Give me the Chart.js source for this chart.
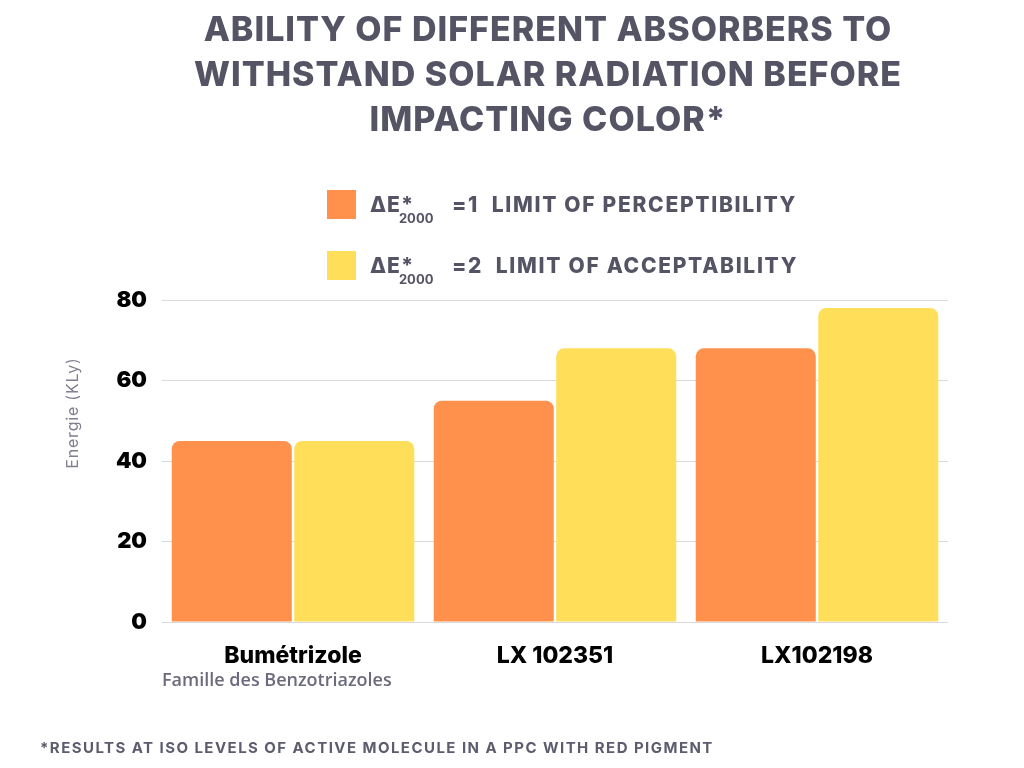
<!DOCTYPE html>
<html>
<head>
<meta charset="utf-8">
<script src="https://cdn.jsdelivr.net/npm/chart.js@4.4.0/dist/chart.umd.min.js"></script>
<style>
  html, body { margin: 0; padding: 0; background: #fff; }
  #wrap { width: 1024px; height: 768px; }
</style>
</head>
<body>
<div id="wrap"><canvas id="absorberChart" width="1024" height="768"></canvas></div>
<script>
// Chart data
const categories = ['Bumétrizole', 'LX 102351', 'LX102198'];
const perceptibility = [45, 55, 68];   // ΔE*2000 = 1
const acceptability = [45, 68, 78];    // ΔE*2000 = 2
const yTicks = [0, 20, 40, 60, 80];

const titleLines = [
    'ABILITY OF DIFFERENT ABSORBERS TO',
    'WITHSTAND SOLAR RADIATION BEFORE',
    'IMPACTING COLOR*'
];
const legendPrefix = 'ΔE*';
const legendSub = '2000';
const legendNames = ['=1  LIMIT OF PERCEPTIBILITY', '=2  LIMIT OF ACCEPTABILITY'];
const seriesColors = ['#FF914D', '#FFDE59'];
const yAxisTitle = 'Energie (KLy)';
const xAxisTitle = 'Famille des Benzotriazoles';
const footnote = '*RESULTS AT ISO LEVELS OF ACTIVE MOLECULE IN A PPC WITH RED PIGMENT';

const textGray = '#545465';

// Title, legend (with subscript), y axis title and footnote
const headerFooter = {
    id: 'headerFooter',
    afterDraw(chart) {
        const ctx = chart.ctx;
        ctx.save();

        // title
        ctx.fillStyle = textGray;
        ctx.textAlign = 'center';
        ctx.textBaseline = 'middle';
        ctx.font = '800 34px Inter';
        ctx.letterSpacing = '1px';
        titleLines.forEach((line, i) => ctx.fillText(line, 548, 31 + i * 45));

        // legend
        ctx.textAlign = 'left';
        ctx.textBaseline = 'alphabetic';
        legendNames.forEach((name, i) => {
            const y = 204 + i * 61;
            ctx.fillStyle = seriesColors[i];
            ctx.fillRect(327, y - 14, 29, 29);
            ctx.fillStyle = textGray;
            ctx.font = '800 21px Inter';
            ctx.letterSpacing = '1px';
            ctx.fillText(legendPrefix, 370, y + 8);
            const wE = ctx.measureText(legendPrefix.slice(0, 2)).width;
            ctx.font = '700 13px Inter';
            ctx.letterSpacing = '0px';
            ctx.fillText(legendSub, 370 + wE - 2, y + 19);
            ctx.font = '800 21px Inter';
            ctx.letterSpacing = '1.7px';
            ctx.fillText(name, 452, y + 8);
        });

        // y axis title
        ctx.save();
        ctx.translate(73, 413);
        ctx.rotate(-Math.PI / 2);
        ctx.textAlign = 'center';
        ctx.textBaseline = 'middle';
        ctx.font = '400 16px Inter';
        ctx.letterSpacing = '0.8px';
        ctx.fillStyle = '#80808f';
        ctx.fillText(yAxisTitle, 0, 0);
        ctx.restore();

        // footnote
        ctx.textAlign = 'left';
        ctx.textBaseline = 'middle';
        ctx.font = '700 15px Inter';
        ctx.letterSpacing = '1.45px';
        ctx.fillStyle = '#5c5c6e';
        ctx.fillText(footnote, 40, 748);

        ctx.restore();
    }
};

const ctx = document.getElementById('absorberChart').getContext('2d');

new Chart(ctx, {
    type: 'bar',
    data: {
        labels: categories,
        datasets: [{
            label: legendPrefix + legendSub + ' ' + legendNames[0],
            data: perceptibility,
            backgroundColor: seriesColors[0],
            borderRadius: { topLeft: 8, topRight: 8, bottomLeft: 0, bottomRight: 0 },
            borderSkipped: false,
            categoryPercentage: 0.935,
            barPercentage: 0.98
        }, {
            label: legendPrefix + legendSub + ' ' + legendNames[1],
            data: acceptability,
            backgroundColor: seriesColors[1],
            borderRadius: { topLeft: 8, topRight: 8, bottomLeft: 0, bottomRight: 0 },
            borderSkipped: false,
            categoryPercentage: 0.935,
            barPercentage: 0.98
        }]
    },
    options: {
        responsive: false,
        animation: false,
        devicePixelRatio: 1,
        layout: {
            padding: { top: 300, right: 76, bottom: 0, left: 0 }
        },
        plugins: {
            legend: { display: false },
            title: { display: false },
            tooltip: { enabled: false }
        },
        scales: {
            x: {
                grid: { display: false },
                border: { display: false },
                ticks: {
                    color: '#000',
                    font: { family: 'Inter', size: 23, weight: '800' },
                    padding: 12
                },
                title: {
                    display: true,
                    text: xAxisTitle,
                    align: 'start',
                    color: '#6b6b7d',
                    font: { family: 'Open Sans', size: 18, weight: '600' },
                    padding: { top: 0, bottom: 76 }
                },
                afterFit(scale) { scale.height = 146; }
            },
            y: {
                min: 0,
                max: 80,
                afterBuildTicks(scale) {
                    scale.ticks = yTicks.map(v => ({ value: v }));
                },
                grid: { color: '#d9d9d9', lineWidth: 1, drawTicks: false },
                border: { display: false },
                ticks: {
                    color: '#000',
                    font: { family: 'Inter', size: 22, weight: '900' },
                    padding: 15
                },
                afterFit(scale) { scale.width = 162; }
            }
        }
    },
    plugins: [headerFooter]
});
</script>
</body>
</html>
